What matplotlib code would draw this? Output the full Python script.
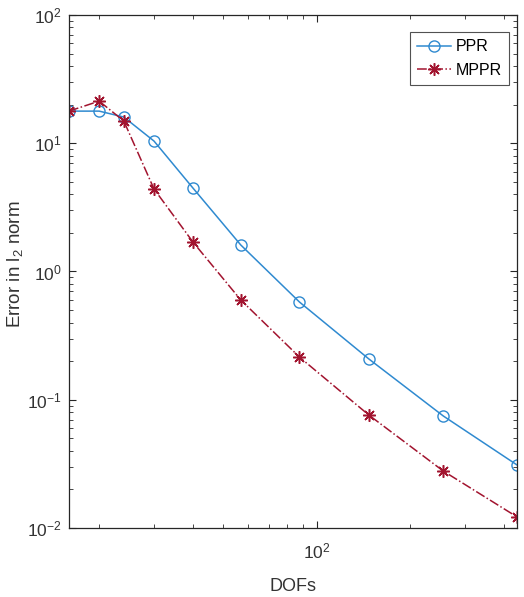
import matplotlib.pyplot as plt
from matplotlib.ticker import LogLocator, NullFormatter

plt.rcParams['font.family'] = ['Liberation Sans Narrow', 'Liberation Sans', 'DejaVu Sans']
plt.rcParams['mathtext.default'] = 'regular'

dofs = [16, 20, 24, 30, 40, 57, 88, 147, 255, 440]
err_ppr = [17.8, 17.8, 16.0, 10.4, 4.48, 1.61, 0.578, 0.208, 0.0747, 0.031]
err_mppr = [17.8, 21.3, 14.9, 4.40, 1.70, 0.600, 0.215, 0.076, 0.0278, 0.0122]

fig = plt.figure(figsize=(5.24, 5.97), dpi=100)
ax = fig.add_axes([0.1317, 0.1156, 0.855, 0.8593])

ax.loglog(dofs, err_ppr, '-o', color='#2f8ad0', lw=1.1, ms=8,
          mfc='none', mew=1.0, label='PPR')
ax.loglog(dofs, err_mppr, '-.', marker=(8, 2, 0), color='#a2142f', lw=1.1, ms=9,
          mew=1.1, label='MPPR')

ax.set_xlim(16, 440)
ax.set_ylim(1e-2, 1e2)

axc = '#262626'
for s in ax.spines.values():
    s.set_color(axc)
    s.set_linewidth(0.9)
ax.tick_params(which='both', direction='in', top=True, right=True,
               colors=axc, labelsize=12.5, labelcolor='#333333')
ax.tick_params(axis='x', which='major', pad=10)
ax.tick_params(axis='y', which='major', pad=5)
ax.tick_params(which='major', length=5)
ax.tick_params(which='minor', length=3)
ax.xaxis.set_minor_locator(LogLocator(base=10, subs=range(2, 10), numticks=20))
ax.xaxis.set_minor_formatter(NullFormatter())
ax.yaxis.set_minor_locator(LogLocator(base=10, subs=range(2, 10), numticks=20))
ax.yaxis.set_minor_formatter(NullFormatter())

ax.set_xlabel('DOFs', fontsize=13, color='#333333', labelpad=12)
ax.set_ylabel('Error in l$_2$ norm', fontsize=13.5, color='#333333', labelpad=0,
              family=['Liberation Sans', 'DejaVu Sans'])
ax.yaxis.set_label_coords(-0.098, 0.515)

leg = ax.legend(loc='upper right', fontsize=11.5, frameon=True, fancybox=False,
                handlelength=2.1, handletextpad=0.3, borderpad=0.45,
                labelspacing=0.55, borderaxespad=0,
                bbox_to_anchor=(0.982, 0.967))
leg.get_frame().set_edgecolor(axc)
leg.get_frame().set_linewidth(0.8)

fig.savefig('out.png', dpi=100)
